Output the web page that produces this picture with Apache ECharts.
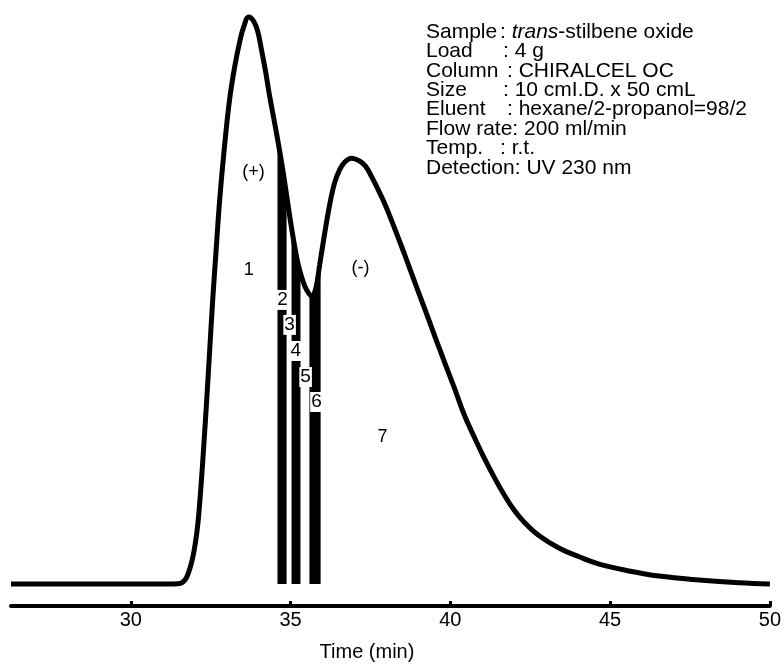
<!DOCTYPE html>
<html><head><meta charset="utf-8">
<script src="https://cdn.jsdelivr.net/npm/echarts@6/dist/echarts.min.js"></script>
<style>html,body{margin:0;padding:0;background:#fff}#c{width:784px;height:664px}</style>
</head><body><div id="c"></div>
<script>
const FONT = "'Liberation Sans', Arial, sans-serif";
// Chromatogram (time in min, relative detector signal, peak 1 = 100)
const timeMin = [26.25, 31.2, 31.45, 31.594, 31.72, 31.81, 31.906, 32.0, 32.094, 32.1875, 32.281, 32.375, 32.469, 32.5625, 32.67, 32.78, 32.92, 33.09, 33.25, 33.406, 33.53, 33.69,
  33.84, 33.97, 34.09, 34.22, 34.34, 34.53, 34.72, 34.875, 35.03, 35.22, 35.375, 35.5, 35.66, 35.78, 35.91, 36.06, 36.22, 36.375, 36.53, 36.69, 36.906,
  37.156, 37.344, 37.531, 37.719, 37.9375, 38.125, 38.3125, 38.5625, 38.875, 39.1875, 39.5, 39.8125, 40.125, 40.4375, 40.75, 41.0625, 41.375, 41.6875, 42.0, 42.3125,
  42.78, 43.41, 44.03, 44.66, 45.59, 46.53, 47.78, 49.03, 50];
const signal = [0, 0, 0.05, 0.2, 0.9, 2.1, 3.9, 6.5, 10.4, 16.6, 24.2, 32.5, 41.3, 50.1, 58.9, 67.7, 76.5, 85.4, 91.2, 95.6, 98.2, 100,
  99.3, 97.5, 94.2, 90.3, 86.2, 80.4, 74.3, 68.6, 62.8, 56.8, 53.6, 51.9, 50.8, 51.9, 56.3, 61.6, 66.8, 70.7, 73.0, 74.4, 75.1,
  74.6, 73.7, 71.9, 69.8, 67.2, 64.6, 61.9, 58.2, 53.4, 48.7, 43.9, 39.2, 34.6, 29.8, 25.9, 22.2, 18.8, 15.7, 13.0, 10.9,
  8.5, 6.3, 4.8, 3.5, 2.3, 1.4, 0.7, 0.2, 0];
// Fraction cut bands
const cutStart = [34.59, 35.03, 35.59];
const cutEnd = [34.875, 35.31, 35.94];
// Fraction labels
const fracLabels = ['2', '3', '4', '5', '6'];
const fracLabelTime = [34.75, 34.97, 35.16, 35.47, 35.81];
const fracLabelSignal = [50.1, 45.7, 41.1, 36.5, 32.1];
// Peak labels
const peakLabels = ['(+)', '1', '(-)', '7'];
const peakLabelTime = [33.84, 33.69, 37.19, 37.88];
const peakLabelSignal = [72.7, 55.4, 55.7, 25.9];
// Axis
const tickValues = [30, 35, 40, 45, 50];
const xMin = 26.25, xMax = 50;
const axisTitle = 'Time (min)';
// Conditions text
const infoKeys = ['Sample', 'Load', 'Column', 'Size', 'Eluent', 'Temp.'];
const infoVals = ['{it|trans}-stilbene oxide', '4 g', 'CHIRALCEL OC', '10 cmI.D. x 50 cmL', 'hexane/2-propanol=98/2', 'r.t.'];
const infoRows = [0, 1, 2, 3, 4, 6];
const infoColonX = [500, 503, 507, 503, 507, 500];
const infoWhole = ['Flow rate: 200 ml/min', 'Detection: UV 230 nm'];
const infoWholeRows = [5, 7];

function interp(t) {
  for (let k = 0; k < timeMin.length - 1; k++) {
    if (t >= timeMin[k] && t <= timeMin[k + 1]) {
      const f = (t - timeMin[k]) / (timeMin[k + 1] - timeMin[k]);
      return signal[k] + f * (signal[k + 1] - signal[k]);
    }
  }
  return 0;
}

const chart = echarts.init(document.getElementById('c'), null, {renderer: 'canvas'});
const graphics = [];
const lineY0 = 32, lineStep = 19.4, infoFont = '21px ' + FONT;
infoKeys.forEach((k, i) => {
  const y = lineY0 + lineStep * infoRows[i];
  graphics.push({type: 'text', x: 426, y: y, style: {text: k, font: infoFont, fill: '#000', textVerticalAlign: 'middle'}});
  graphics.push({type: 'text', x: infoColonX[i], y: y, style: {text: ': ' + infoVals[i], font: infoFont, fill: '#000', textVerticalAlign: 'middle',
    rich: {it: {fontStyle: 'italic', fontSize: 21, fontFamily: FONT}}}});
});
infoWhole.forEach((s, i) => {
  const y = lineY0 + lineStep * infoWholeRows[i];
  graphics.push({type: 'text', x: 426, y: y, style: {text: s, font: infoFont, fill: '#000', textVerticalAlign: 'middle'}});
});
graphics.push({type: 'text', x: 367, y: 652, style: {text: axisTitle, font: '20px ' + FONT, fill: '#000', textAlign: 'center', textVerticalAlign: 'middle'}});

chart.setOption({
  animation: false,
  backgroundColor: '#fff',
  grid: {left: 11, right: 14, top: 17, bottom: 80, containLabel: false},
  xAxis: {
    type: 'value', min: xMin, max: xMax, position: 'bottom', offset: 22,
    axisLine: {show: true, onZero: false, lineStyle: {color: '#000', width: 4}},
    axisTick: {show: true, inside: true, length: 5, customValues: tickValues, lineStyle: {color: '#000', width: 3}},
    axisLabel: {show: true, customValues: tickValues, color: '#000', fontSize: 20, fontFamily: FONT, margin: 4},
    splitLine: {show: false}
  },
  yAxis: {type: 'value', min: 0, max: 100, show: false},
  graphic: graphics,
  series: [
    {
      type: 'custom', z: 2,
      data: cutStart.map((s, i) => [s, cutEnd[i]]),
      encode: {x: [0, 1]},
      renderItem: function (params, api) {
        const t0 = api.value(0), t1 = api.value(1);
        const pts = [api.coord([t0, 0]), api.coord([t0, interp(t0)])];
        for (let k = 0; k < timeMin.length; k++) {
          if (timeMin[k] > t0 && timeMin[k] < t1) pts.push(api.coord([timeMin[k], signal[k]]));
        }
        pts.push(api.coord([t1, interp(t1)]));
        pts.push(api.coord([t1, 0]));
        return {type: 'polygon', shape: {points: pts}, style: {fill: '#000'}};
      }
    },
    {
      type: 'line', z: 3, clip: false, symbol: 'none', smooth: 0.4,
      data: timeMin.map((t, i) => [t, signal[i]]),
      lineStyle: {color: '#000', width: 5}
    },
    {
      type: 'scatter', z: 5, symbolSize: 1, clip: false,
      itemStyle: {color: 'rgba(0,0,0,0)', opacity: 1},
      emphasis: {disabled: true},
      data: fracLabelTime.map((t, i) => ({value: [t, fracLabelSignal[i]], name: fracLabels[i]})),
      label: {show: true, position: 'inside', formatter: '{b}', color: '#000', fontSize: 19, fontFamily: FONT,
        backgroundColor: '#fff', padding: [1, 1, 0, 1]}
    },
    {
      type: 'scatter', z: 5, symbolSize: 1, clip: false,
      itemStyle: {color: 'rgba(0,0,0,0)', opacity: 1},
      emphasis: {disabled: true},
      data: peakLabelTime.map((t, i) => ({value: [t, peakLabelSignal[i]], name: peakLabels[i]})),
      label: {show: true, position: 'inside', formatter: '{b}', color: '#000', fontSize: 18, fontFamily: FONT}
    }
  ]
});
</script></body></html>
